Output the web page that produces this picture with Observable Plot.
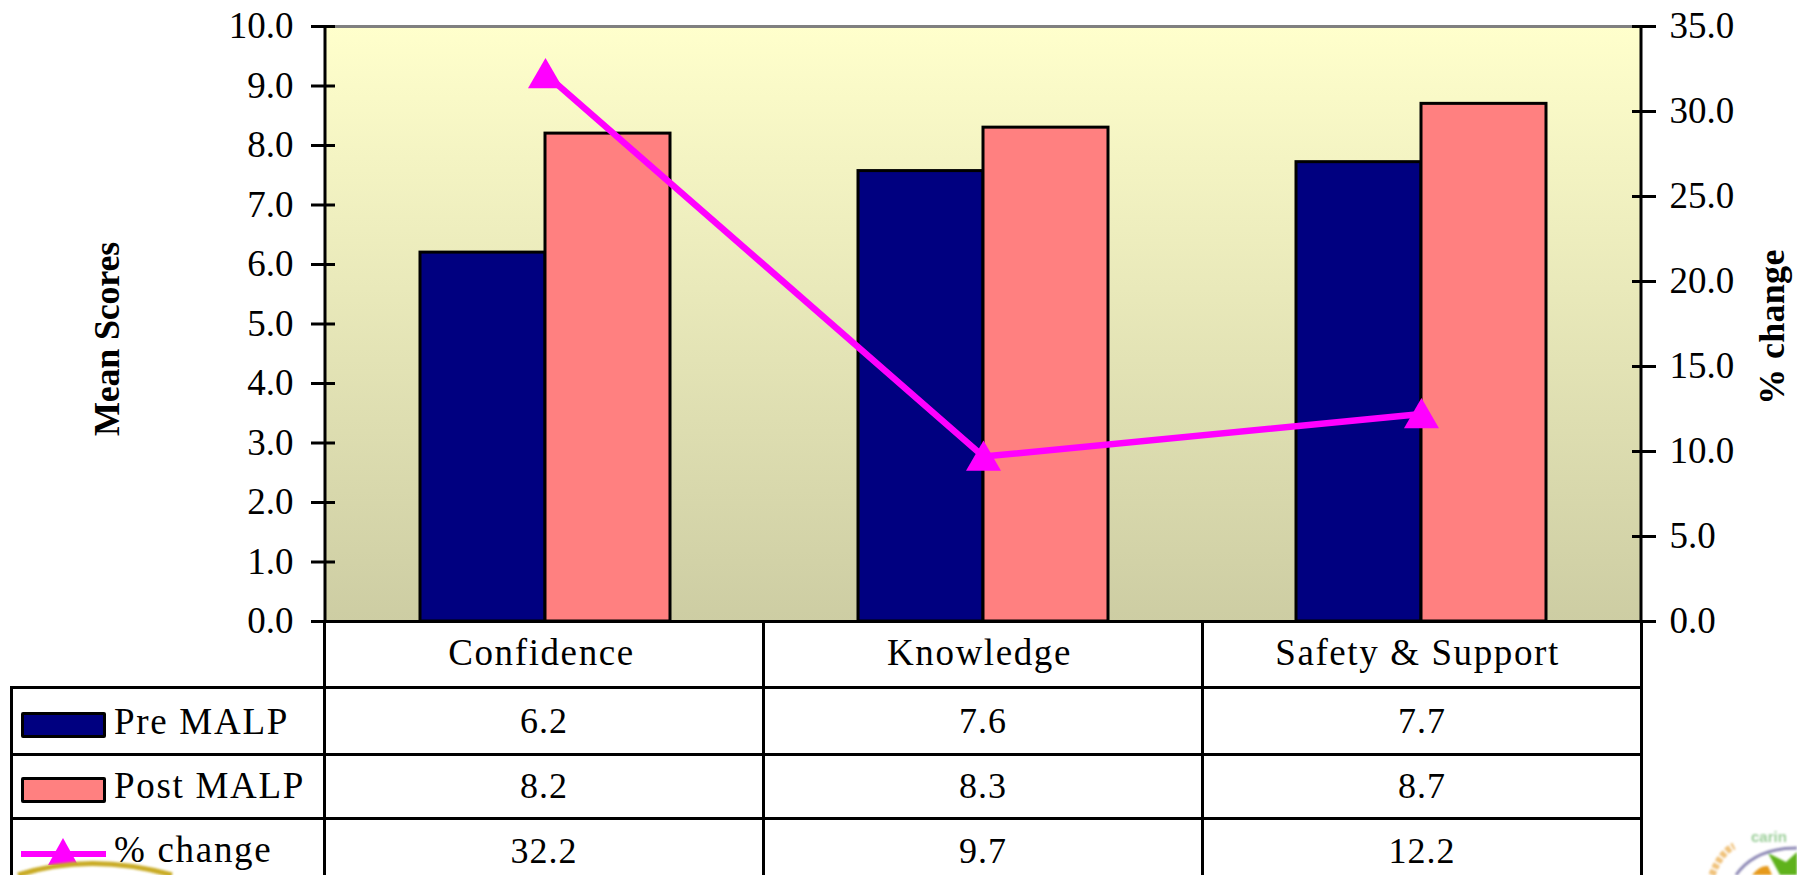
<!DOCTYPE html>
<html><head><meta charset="utf-8">
<script src="https://cdn.jsdelivr.net/npm/d3@7"></script>
<script src="https://cdn.jsdelivr.net/npm/@observablehq/plot@0.6"></script>
<style>
html,body{margin:0;padding:0;background:#fff;width:1797px;height:875px;overflow:hidden}
#wrap{position:relative;width:1797px;height:875px;font-family:"Liberation Serif",serif;color:#000}
#chart{position:absolute;left:0;top:0;z-index:2}
#chart svg{display:block;background:transparent;overflow:visible}
#chart g[aria-label="x-axis tick label"]{letter-spacing:1.6px}
table{position:absolute;left:10px;top:620px;border-collapse:collapse;table-layout:fixed;z-index:1}
td{padding:0;font-size:36px;text-align:center;border:3px solid #000;letter-spacing:1px;white-space:nowrap;overflow:hidden}
td.lab{width:310px;text-align:left;position:relative;letter-spacing:1.7px;font-size:37px}
td.val{width:436px}
td.blank{border-left:none;border-top:none;border-bottom:3px solid #000}
tr.head td{height:63px}
tr.r1 td{height:64px} tr.r2 td{height:59px;padding-bottom:2px} tr.r3 td{height:62px;padding-bottom:8px}
.sw{display:inline-block;width:79px;height:20px;border:3px solid #000;border-radius:2px;vertical-align:middle;margin:0 8px 0 8px}
.key{display:inline-block;vertical-align:middle;margin:0 8px 0 8px}
.deco{position:absolute}
</style></head><body>
<div id="wrap">
<div id="chart"></div>
<table id="tbl"></table>
<svg class="deco" width="1797" height="875" style="left:0;top:0;z-index:3;pointer-events:none">
  <defs><filter id="soft"><feGaussianBlur stdDeviation="1.2"/></filter></defs>
  <g filter="url(#soft)">
    <path d="M18 875 Q90 852 172 875" fill="none" stroke="#c9ac25" stroke-width="5"/>
    <path d="M1736 875 Q1755 848 1797 848" fill="none" stroke="#8d88b5" stroke-width="3"/>
    <path d="M1752 875 Q1760 865 1768 866 L1772 875Z" fill="#e69a1c"/>
    <path d="M1768 853 L1780 875 L1797 875 L1797 852 L1786 862Z" fill="#5fb21f"/>
    <path d="M1712 875 Q1720 853 1734 846" fill="none" stroke="#f0c27c" stroke-width="7" stroke-dasharray="5 2"/>
    <text x="1751" y="842" font-size="15" fill="#9ccf9a" font-family="Liberation Sans" font-weight="bold">carin</text>
  </g>
</svg>
</div>
<script>
const categories = ["Confidence", "Knowledge", "Safety & Support"];
const preMALP = [6.2, 7.57, 7.72];
const postMALP = [8.2, 8.3, 8.7];
const pctChange = [32.2, 9.7, 12.2];
const meanTicks = [0,1,2,3,4,5,6,7,8,9,10];
const pctTicks = [0,5,10,15,20,25,30,35];
const rowNames = ["Pre MALP","Post MALP","% change"];
const pctMax = 35, meanMax = 10;
const toMean = p => p * meanMax / pctMax;
const fontFamily = '"Liberation Serif", serif';

const rows = categories.map((c,i)=>({c, pre:preMALP[i], post:postMALP[i], pct:pctChange[i]}));
const gradient = () => {
  const ns = "http://www.w3.org/2000/svg";
  const defs = document.createElementNS(ns,"defs");
  defs.innerHTML = '<linearGradient id="bg" x1="0" y1="0" x2="0" y2="1"><stop offset="0" stop-color="#FFFFCC"/><stop offset="1" stop-color="#CDCDA3"/></linearGradient>';
  return defs;
};
const insetNear = 94, insetFar = 219;
const chart = Plot.plot({
  width: 1797, height: 688,
  marginLeft: 325, marginRight: 156, marginTop: 26, marginBottom: 67,
  style: {background:"transparent", fontFamily, color:"#000", overflow:"visible"},
  x: {domain: categories, padding: 0},
  y: {domain: [0, meanMax]},
  marks: [
    gradient,
    Plot.frame({fill:"url(#bg)", stroke:null}),
    Plot.ruleY([meanMax], {stroke:"#808080", strokeWidth:3}),
    Plot.barY(rows, {x:"c", y:"pre", fill:"#000080", stroke:"#000", strokeWidth:3, insetLeft:insetNear, insetRight:insetFar}),
    Plot.barY(rows, {x:"c", y:"post", fill:"#FF8080", stroke:"#000", strokeWidth:3, insetLeft:insetFar, insetRight:insetNear}),
    Plot.line(rows, {x:"c", y:d=>toMean(d.pct), stroke:"#FF00FF", strokeWidth:6.5}),
    Plot.dot(rows, {x:"c", y:d=>toMean(d.pct), symbol:"triangle", r:13, fill:"#FF00FF", dy:4}),
    Plot.axisY({anchor:"left", ticks:meanTicks, tickSize:24, dx:10, fill:"none", stroke:"#000", strokeWidth:3, label:null}),
    Plot.axisY({anchor:"left", ticks:meanTicks, tickSize:14, tickPadding:18, stroke:"none", fill:"#000", fontSize:37, tickFormat:d=>d.toFixed(1), label:null}),
    Plot.axisY({anchor:"right", ticks:pctTicks.map(toMean), tickSize:24, dx:-10, fill:"none", stroke:"#000", strokeWidth:3, label:null}),
    Plot.axisY({anchor:"right", ticks:pctTicks.map(toMean), tickSize:14, tickPadding:14, stroke:"none", fill:"#000", fontSize:37, tickFormat:d=>(d*pctMax/meanMax).toFixed(1), label:null}),
    Plot.axisX({anchor:"bottom", tickSize:0, tickPadding:17, fontSize:37, label:null, stroke:"none", fill:"#000", dx:-4}),
    Plot.ruleY([0], {stroke:"#000", strokeWidth:3}),
    (index, scales, values, dims) => {
      const ns = "http://www.w3.org/2000/svg";
      const g = document.createElementNS(ns,"g");
      const mk = (x,y,t,size,sp) => {
        const e = document.createElementNS(ns,"text");
        e.setAttribute("transform",`translate(${x},${y}) rotate(-90)`);
        e.setAttribute("text-anchor","middle"); e.setAttribute("font-weight","bold");
        e.setAttribute("font-size",size); e.setAttribute("font-family",fontFamily);
        e.setAttribute("letter-spacing",sp);
        e.textContent=t; return e;
      };
      g.appendChild(mk(119,339,"Mean Scores",36,-0.2));
      g.appendChild(mk(1784,327,"% change",36,0.3));
      const ax = (x)=>{const l=document.createElementNS(ns,"line");
        l.setAttribute("x1",x);l.setAttribute("x2",x);l.setAttribute("y1",dims.marginTop);l.setAttribute("y2",dims.height-dims.marginBottom);
        l.setAttribute("stroke","#000");l.setAttribute("stroke-width",3);return l;};
      g.appendChild(ax(dims.marginLeft));g.appendChild(ax(dims.width-dims.marginRight));
      return g;
    }
  ]
});
document.getElementById("chart").appendChild(chart);

const tbl = document.getElementById("tbl");
const esc = s=>String(s).replace(/&/g,"&amp;");
const key = [
  '<span class="sw" style="background:#000080"></span>',
  '<span class="sw" style="background:#FF8080"></span>',
  '<svg class="key" width="85" height="40" viewBox="0 0 85 40"><line x1="0" y1="20" x2="85" y2="20" stroke="#FF00FF" stroke-width="6"/><path d="M42 4 L57 31 L27 31Z" fill="#FF00FF"/></svg>'
];
let html = '<tr class="head"><td class="lab blank" style="border:none;border-bottom:3px solid #000"></td>' + categories.map(()=>'<td class="val"></td>').join("") + '</tr>';
[preMALP,postMALP,pctChange].forEach((arr,i)=>{
  html += `<tr class="r${i+1}"><td class="lab">${key[i]}${esc(rowNames[i])}</td>` + arr.map(v=>`<td class="val">${v.toFixed(1)}</td>`).join("") + '</tr>';
});
tbl.innerHTML = html;
</script>
</body></html>
